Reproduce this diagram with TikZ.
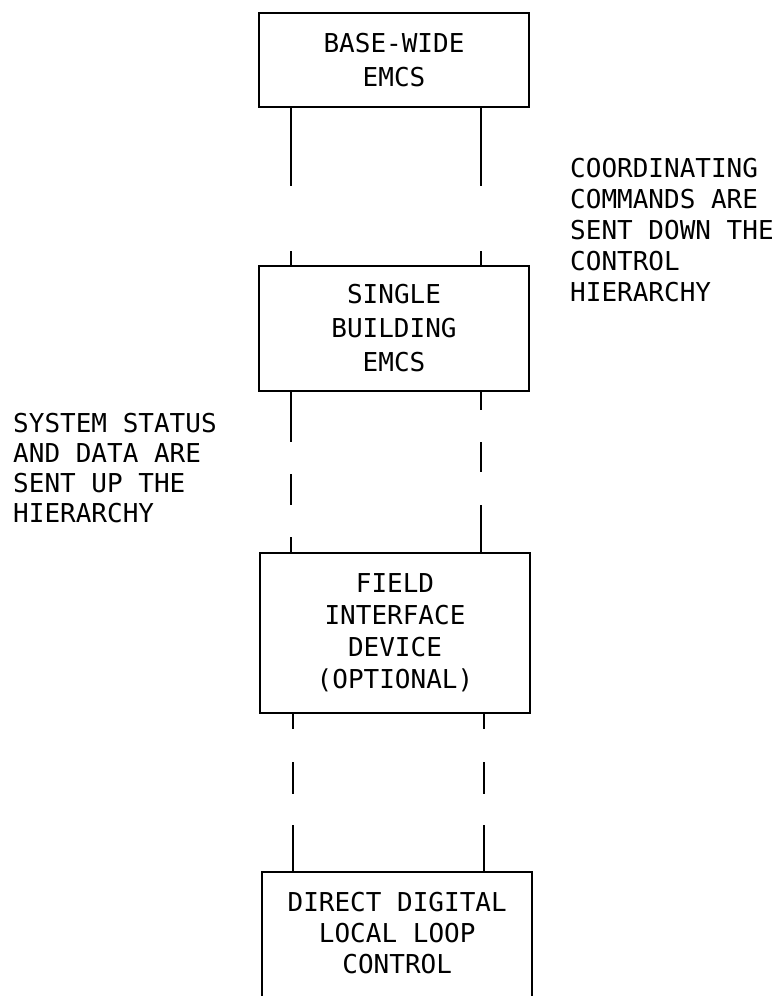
\documentclass[tikz,border=0pt]{standalone}
\usepackage{fontspec}
\setmonofont{DejaVu Sans Mono}
\usetikzlibrary{calc,positioning}
\tikzset{
  box/.style={draw, line width=2pt, align=center, minimum width=270pt, inner sep=0pt, font=\ttfamily\fontsize{26}{34}\selectfont},
  boxtext/.style={align=center, minimum width=270pt, inner xsep=0pt, font=\ttfamily\fontsize{26}{31}\selectfont},
  frame/.style={line width=2pt},
  note/.style={align=left, inner sep=0pt, anchor=north west, font=\ttfamily\fontsize{26}{31}\selectfont},
  link/.style={line width=1.5pt}
}
\begin{document}
\begin{tikzpicture}[x=1pt, y=-1pt]
\useasboundingbox (0,0) rectangle (778,996);
% boxes of the hierarchy
\node[box, anchor=north west, minimum height=94pt] (base) at (258,12) {BASE-WIDE\\EMCS};
\node[box, anchor=north west, minimum height=125pt] (single) at (258,265) {SINGLE\\BUILDING\\EMCS};
\node[box, anchor=north west, minimum height=160pt, font=\ttfamily\fontsize{26}{32}\selectfont] (field) at (259,552) {FIELD\\INTERFACE\\DEVICE\\(OPTIONAL)};
\node[boxtext, anchor=north west, inner ysep=20pt] (ddc) at (262,872) {DIRECT DIGITAL\\LOCAL LOOP\\CONTROL};
\draw[frame] ([yshift=-40pt]ddc.south west) |- (ddc.north east) -- ([yshift=-40pt]ddc.south east);
% side notes
\node[note] (down) at (570,158) {COORDINATING\\COMMANDS ARE\\SENT DOWN THE\\CONTROL\\HIERARCHY};
\node[note, font=\ttfamily\fontsize{26}{30}\selectfont] (up) at (13,413) {SYSTEM STATUS\\AND DATA ARE\\SENT UP THE\\HIERARCHY};
% broken links
\coordinate (lx) at (291,0);
\coordinate (rx) at (481,0);
\coordinate (lx2) at (293,0);
\coordinate (rx2) at (484,0);
\draw[link, dash pattern=on 78pt off 65pt on 40pt] (base.south -| lx) -- (single.north -| lx);
\draw[link, dash pattern=on 78pt off 65pt on 40pt] (base.south -| rx) -- (single.north -| rx);
\draw[link, dash pattern=on 50pt off 32pt on 31pt off 32pt on 40pt] (single.south -| lx) -- (field.north -| lx);
\draw[link, dash pattern=on 18pt off 32pt on 30pt off 33pt on 60pt] (single.south -| rx) -- (field.north -| rx);
\draw[link, dash pattern=on 15pt off 33pt on 32pt off 31pt on 60pt] (field.south -| lx2) -- (ddc.north -| lx2);
\draw[link, dash pattern=on 15pt off 33pt on 32pt off 31pt on 60pt] (field.south -| rx2) -- (ddc.north -| rx2);
\end{tikzpicture}
\end{document}
